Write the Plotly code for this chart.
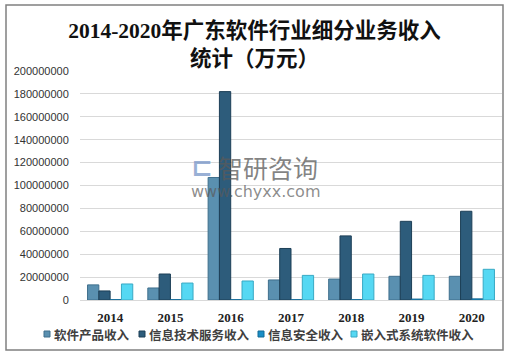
import plotly.graph_objects as go

years = ["2014", "2015", "2016", "2017", "2018", "2019", "2020"]
series_names = ["软件产品收入", "信息技术服务收入", "信息安全收入", "嵌入式系统软件收入"]
software_product = [13200000, 10500000, 107000000, 17500000, 18300000, 20700000, 20700000]
it_service = [7900000, 22700000, 182000000, 45000000, 56000000, 68700000, 77500000]
info_security = [300000, 300000, 300000, 300000, 300000, 800000, 1000000]
embedded = [14000000, 14800000, 16600000, 21500000, 22700000, 21500000, 26800000]
y_ticks = [0, 20000000, 40000000, 60000000, 80000000, 100000000,
           120000000, 140000000, 160000000, 180000000, 200000000]

values = [software_product, it_service, info_security, embedded]
fills = ["#5a90b0", "#2d5c7b", "#1a8ec6", "#55d8f3"]
lines = ["#3f6f8c", "#1d3f57", "#136a96", "#38a9c4"]

W, H = 509, 357
L, R, T, B = 80, 7, 71, 57
pw, ph = W - L - R, H - T - B

def px(xp):
    return (xp - L) / pw

def py(yp):
    return (H - B - yp) / ph

fig = go.Figure()
for name, vals, fc, lc in zip(series_names, values, fills, lines):
    fig.add_trace(go.Bar(
        x=years, y=vals, name=name, showlegend=False,
        marker=dict(color=fc, line=dict(color=lc, width=1)),
    ))

# legend drawn as swatches + labels (positions of the legend entries)
legend_x = [44, 139, 258, 351]
shapes = [dict(
    type="rect", xref="paper", yref="paper",
    x0=px(6), x1=px(503), y0=py(350), y1=py(5),
    line=dict(color="#808080", width=1.5), fillcolor="rgba(0,0,0,0)",
    layer="below",
)]
annotations = []
for name, fc, lc, lx in zip(series_names, fills, lines, legend_x):
    shapes.append(dict(
        type="rect", xref="paper", yref="paper",
        x0=px(lx), x1=px(lx + 6), y0=py(337), y1=py(331),
        fillcolor=fc, line=dict(color=lc, width=1),
    ))
    annotations.append(dict(
        text="<b>" + name + "</b>", xref="paper", yref="paper",
        x=px(lx + 8), y=py(334), xanchor="left", yanchor="middle",
        showarrow=False,
        font=dict(family="Noto Sans CJK SC", size=12.5, color="#404040"),
    ))

annotations += [
    dict(text="智研咨询", xref="paper", yref="paper",
         x=px(268), y=py(167), xanchor="center", yanchor="middle",
         showarrow=False,
         font=dict(family="Noto Sans CJK SC", size=25, color="rgba(90,90,90,0.75)")),
    dict(text="www.chyxx.com", xref="paper", yref="paper",
         x=px(255), y=py(191), xanchor="center", yanchor="middle",
         showarrow=False,
         font=dict(family="DejaVu Sans", size=16, color="rgba(90,90,90,0.7)")),
    dict(text="<b>⊏</b>", xref="paper", yref="paper",
         x=px(202), y=py(167), xanchor="center", yanchor="middle",
         showarrow=False,
         font=dict(family="DejaVu Sans", size=26, color="rgba(120,150,200,0.75)")),
]

fig.update_layout(
    width=W, height=H,
    margin=dict(l=L, r=R, t=T, b=B, autoexpand=False),
    paper_bgcolor="white", plot_bgcolor="white",
    barmode="group", bargap=0.25, bargroupgap=0,
    font=dict(family="Liberation Sans, Noto Sans CJK SC", color="#404040"),
    title=dict(
        text="<b>2014-2020年广东软件行业细分业务收入<br>统计（万元）</b>",
        x=0.5, xanchor="center", xref="container",
        y=1 - 38 / H, yanchor="top", yref="container",
        font=dict(family="Liberation Serif, Noto Sans CJK SC", size=21.5, color="#111111"),
    ),
    showlegend=False,
    xaxis=dict(
        type="category", showgrid=False, showline=False,
        ticks="outside", ticklen=5, tickcolor="rgba(0,0,0,0)",
        tickfont=dict(family="Liberation Serif", size=13, color="#222222"),
        tickprefix="<b>", ticksuffix="</b>",
    ),
    yaxis=dict(
        range=[0, 200000000], tickvals=y_ticks,
        ticktext=[str(v) for v in y_ticks],
        showgrid=True, gridcolor="#d9d9d9", gridwidth=1,
        zeroline=True, zerolinecolor="#d9d9d9", zerolinewidth=1,
        showline=False,
        ticks="outside", ticklen=8, tickcolor="rgba(0,0,0,0)",
        tickfont=dict(family="Liberation Sans", size=11, color="#333333"),
    ),
    shapes=shapes,
    annotations=annotations,
)

fig.write_html("out.html", config={"displayModeBar": False},
               post_script="document.body.style.margin='0';")
